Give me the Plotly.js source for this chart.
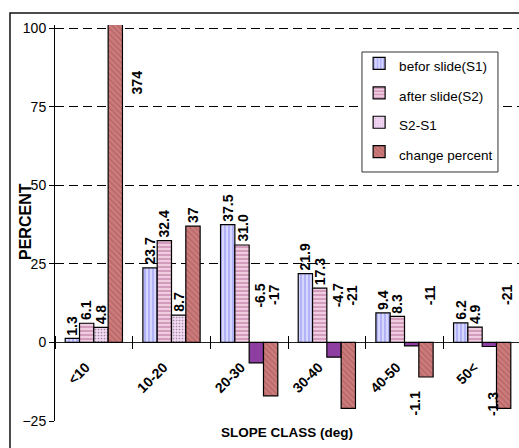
<!DOCTYPE html>
<html>
<head>
<meta charset="utf-8">
<script src="https://cdn.plot.ly/plotly-3.0.1.min.js"></script>
<style>html,body{margin:0;padding:0;background:#fff;}#chart{width:519px;height:448px;}</style>
</head>
<body>
<div id="chart"></div>
<script>
// ---- data ----
var categories = ["<10", "10-20", "20-30", "30-40", "40-50", "50<"];
var seriesNames = ["befor slide(S1)", "after slide(S2)", "S2-S1", "change percent"];
var beforeS1 = [1.3, 23.7, 37.5, 21.9, 9.4, 6.2];
var afterS2 = [6.1, 32.4, 31.0, 17.3, 8.3, 4.9];
var diffS2S1 = [4.8, 8.7, -6.5, -4.7, -1.1, -1.3];
var changePercent = [374, 37, -17, -21, -11, -21];
var yTicks = [-25, 0, 25, 50, 75, 100];
var xTitle = "SLOPE CLASS (deg)";
var yTitle = "PERCENT";

// ---- styling ----
var REG = "Liberation Sans, Arial, sans-serif";
var YMIN = -25, YMAX = 101;
var BARGAP = 0.263;

var styles = [
  {bg: "#d6d6ff", fg: "#7070e8", shape: "|", size: 4, sol: 0.35},
  {bg: "#f0cce0", fg: "#9c3f78", shape: "-", size: 4, sol: 0.35},
  {bg: "#f3d8f3", fg: "#c090c8", shape: ".", size: 3, sol: 0.25},
  {bg: "#cc7c7c", fg: "#a04e4e", shape: "\\", size: 4, sol: 0.35}
];
var negDiffColor = "#8e3ea0";

var allSeries = [beforeS1, afterS2, diffS2S1, changePercent];

var traces = allSeries.map(function (vals, j) {
  var st = styles[j];
  var bg = st.bg, shape = st.shape;
  if (j === 2) {
    bg = vals.map(function (v) { return v < 0 ? negDiffColor : st.bg; });
    shape = vals.map(function (v) { return v < 0 ? "" : st.shape; });
  }
  return {
    type: "bar",
    name: '<span style="font-size:13.5px">' + seriesNames[j] + '</span>',
    x: categories,
    y: vals,
    marker: {
      color: bg,
      line: {color: "#000", width: 1.2},
      pattern: {shape: shape, fillmode: "overlay", fgcolor: st.fg, size: st.size, solidity: st.sol}
    },
    hoverinfo: "x+y"
  };
});

// ---- value labels ----
var groupW = 1 - BARGAP, barW = groupW / 4;
var annotations = [];
allSeries.forEach(function (vals, j) {
  vals.forEach(function (v, i) {
    var txt = (j === 3) ? String(v) : v.toFixed(1);
    var xc = i - groupW / 2 + barW * (j + 0.5);
    var a = {
      xref: "x", yref: "y", x: xc, text: txt, showarrow: false, textangle: -90,
      font: {family: REG, size: 14, color: "#000", weight: "bold"}
    };
    if (v > YMAX) {
      a.y = YMAX * 0.82; a.yanchor = "middle"; a.xshift = 22;
    } else if (v >= 0) {
      a.y = v; a.yanchor = "bottom"; a.yshift = 1;
    } else if (v > -2) {
      a.y = -19.5; a.yanchor = "middle"; a.xshift = 3;
    } else {
      a.y = 15; a.yanchor = "middle"; a.xshift = 4;
    }
    annotations.push(a);
  });
});
// axis titles
annotations.push({
  xref: "paper", yref: "paper", x: 0.5, y: -0.028, xanchor: "center", yanchor: "middle",
  text: xTitle, showarrow: false, font: {family: REG, size: 13.5, color: "#000", weight: "bold"}
});
annotations.push({
  xref: "paper", yref: "paper", x: -0.0647, y: 0.505, xanchor: "center", yanchor: "middle",
  text: yTitle, showarrow: false, textangle: -90, font: {family: REG, size: 16, color: "#000", weight: "bold"}
});

var zeroFrac = (0 - YMIN) / (YMAX - YMIN);

var layout = {
  width: 519, height: 448,
  margin: {l: 55, r: 0, t: 25, b: 27},
  paper_bgcolor: "#fff", plot_bgcolor: "#fff",
  barmode: "group", bargap: BARGAP, bargroupgap: 0,
  font: {family: REG, size: 14, color: "#000"},
  showlegend: true,
  legend: {
    x: 0.955, xanchor: "right", y: 0.9526, yanchor: "top",
    bgcolor: "rgba(0,0,0,0)", bordercolor: "rgba(0,0,0,0)", borderwidth: 0,
    font: {family: REG, size: 20.3, color: "#000"},
    itemwidth: 30
  },
  xaxis: {
    type: "category",
    range: [-0.5, 5.474],
    anchor: "free", position: zeroFrac + 7 / 396,
    showline: false, showgrid: false, zeroline: false,
    ticks: "outside", ticklen: 13, tickcolor: "#000", tickwidth: 1,
    tickson: "boundaries",
    tickangle: -45, ticklabelstandoff: 20, ticklabelshift: -8,
    tickfont: {family: REG, size: 14, color: "#000", weight: "bold"},
    fixedrange: true
  },
  yaxis: {
    range: [YMIN, YMAX],
    tickvals: yTicks,
    showline: true, linecolor: "#000", linewidth: 1,
    ticks: "outside", ticklen: 5, tickcolor: "#000",
    showgrid: true, gridcolor: "#000", gridwidth: 1, griddash: "9px,5px",
    zeroline: true, zerolinecolor: "#222", zerolinewidth: 1,
    tickfont: {family: REG, size: 14, color: "#000"},
    fixedrange: true
  },
  annotations: annotations,
  shapes: [
    {
      type: "rect", xref: "paper", yref: "paper",
      x0: -0.097, x1: 1.05, y0: -0.2, y1: 1.0303,
      line: {color: "#111", width: 1.5}, fillcolor: "rgba(0,0,0,0)", layer: "below"
    },
    {
      type: "rect", xref: "paper", yref: "paper",
      x0: 0.6616, x1: 0.9547, y0: 0.6288, y1: 0.9318,
      line: {color: "#333", width: 1}, fillcolor: "#fff", layer: "above"
    }
  ]
};

Plotly.newPlot("chart", traces, layout, {displayModeBar: false, staticPlot: true});
</script>
</body>
</html>
